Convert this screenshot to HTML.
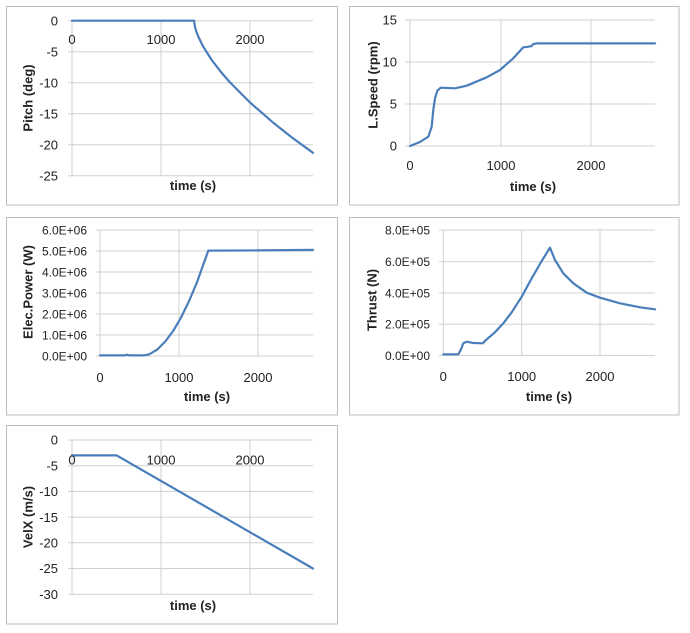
<!DOCTYPE html>
<html>
<head>
<meta charset="utf-8">
<style>
html,body{margin:0;padding:0;background:#fff;}
svg{display:block;}
text{font-family:"Liberation Sans",Arial,sans-serif;fill:#222;}
.t{font-size:13px;}
.s{font-size:12px;}
.b{font-size:13px;font-weight:bold;}
.g{stroke:#d0d0d0;stroke-width:1;fill:none;}
.f{fill:#fff;stroke:#bdbdbd;stroke-width:1;}
.d{fill:none;stroke:#4a7ebb;stroke-width:2.2;stroke-linejoin:round;stroke-linecap:round;}
</style>
</head>
<body>
<svg width="690" height="633" viewBox="0 0 690 633" xmlns="http://www.w3.org/2000/svg">
<!-- Panel 1 : Pitch -->
<rect class="f" x="6.5" y="6.5" width="331" height="198.5"/>
<g class="g">
<line x1="68" y1="20.7" x2="313" y2="20.7"/>
<line x1="68" y1="51.7" x2="313" y2="51.7"/>
<line x1="68" y1="82.7" x2="313" y2="82.7"/>
<line x1="68" y1="113.7" x2="313" y2="113.7"/>
<line x1="68" y1="144.7" x2="313" y2="144.7"/>
<line x1="68" y1="175.7" x2="313" y2="175.7"/>
<line x1="72" y1="20.7" x2="72" y2="175.7"/>
<line x1="161" y1="20.7" x2="161" y2="175.7"/>
<line x1="250" y1="20.7" x2="250" y2="175.7"/>
</g>
<polyline class="d" points="72,20.7 194,20.7 194.9,26.5 196.2,31.1 198.4,36.9 202.8,45.9 211.7,60 220.6,71.6 229.5,81.9 250,102.5 274.1,123.4 292.1,137.6 313,152.8"/>
<g class="t" text-anchor="end">
<text x="58" y="25.5">0</text>
<text x="58" y="56.5">-5</text>
<text x="58" y="87.5">-10</text>
<text x="58" y="118.5">-15</text>
<text x="58" y="149.5">-20</text>
<text x="58" y="180.5">-25</text>
</g>
<g class="t" text-anchor="middle">
<text x="72" y="44">0</text>
<text x="161" y="44">1000</text>
<text x="250" y="44">2000</text>
</g>
<text class="b" x="193" y="190" text-anchor="middle">time (s)</text>
<text class="b" text-anchor="middle" transform="translate(32.5,98) rotate(-90)">Pitch (deg)</text>

<!-- Panel 2 : L.Speed -->
<rect class="f" x="349.5" y="6.5" width="329.5" height="198.5"/>
<g class="g">
<line x1="405" y1="20" x2="655" y2="20"/>
<line x1="405" y1="62" x2="655" y2="62"/>
<line x1="405" y1="104" x2="655" y2="104"/>
<line x1="405" y1="146" x2="655" y2="146"/>
<line x1="410" y1="20" x2="410" y2="146"/>
<line x1="501" y1="20" x2="501" y2="146"/>
<line x1="591" y1="20" x2="591" y2="146"/>
</g>
<polyline class="d" points="410,146 420,142 428.3,136.7 431.7,126.7 433.3,110 435,98.3 437.3,90.7 440.7,87.7 455,88.3 466.7,85.7 486.7,77.3 500,70 513.3,58.3 523.3,47.3 528.3,46.7 531.7,46 533.3,44 536.7,43.4 655,43.4"/>
<g class="t" text-anchor="end">
<text x="397" y="24.5">15</text>
<text x="397" y="66.5">10</text>
<text x="397" y="108.5">5</text>
<text x="397" y="150.5">0</text>
</g>
<g class="t" text-anchor="middle">
<text x="410" y="170">0</text>
<text x="501" y="170">1000</text>
<text x="591" y="170">2000</text>
</g>
<text class="b" x="533" y="191" text-anchor="middle">time (s)</text>
<text class="b" text-anchor="middle" transform="translate(377.5,85) rotate(-90)">L.Speed (rpm)</text>

<!-- Panel 3 : Elec.Power -->
<rect class="f" x="6.5" y="217.5" width="331" height="197.5"/>
<g class="g">
<line x1="96" y1="230" x2="313" y2="230"/>
<line x1="96" y1="251" x2="313" y2="251"/>
<line x1="96" y1="272" x2="313" y2="272"/>
<line x1="96" y1="293" x2="313" y2="293"/>
<line x1="96" y1="314" x2="313" y2="314"/>
<line x1="96" y1="335" x2="313" y2="335"/>
<line x1="96" y1="356" x2="313" y2="356"/>
<line x1="100" y1="230" x2="100" y2="356"/>
<line x1="179" y1="230" x2="179" y2="356"/>
<line x1="258" y1="230" x2="258" y2="356"/>
</g>
<polyline class="d" points="100,355.4 125,355.4 127,354.6 129,355.4 141.7,355.4 145,355.2 149.5,354.2 157.4,349.4 165.3,341.5 173.2,330.9 181.1,317.4 189,301.2 196.9,282.5 208.3,250.6 260,250.4 313,249.9"/>
<g class="s" text-anchor="end">
<text x="87" y="234.3">6.0E+06</text>
<text x="87" y="255.3">5.0E+06</text>
<text x="87" y="276.3">4.0E+06</text>
<text x="87" y="297.3">3.0E+06</text>
<text x="87" y="318.3">2.0E+06</text>
<text x="87" y="339.3">1.0E+06</text>
<text x="87" y="360.3">0.0E+00</text>
</g>
<g class="t" text-anchor="middle">
<text x="100" y="382">0</text>
<text x="179" y="382">1000</text>
<text x="258" y="382">2000</text>
</g>
<text class="b" x="207" y="401" text-anchor="middle">time (s)</text>
<text class="b" text-anchor="middle" transform="translate(32.5,292) rotate(-90)">Elec.Power (W)</text>

<!-- Panel 4 : Thrust -->
<rect class="f" x="349.5" y="217.5" width="329.5" height="197.5"/>
<g class="g">
<line x1="439" y1="230" x2="655" y2="230"/>
<line x1="439" y1="261.7" x2="655" y2="261.7"/>
<line x1="439" y1="293" x2="655" y2="293"/>
<line x1="439" y1="324.3" x2="655" y2="324.3"/>
<line x1="439" y1="355.5" x2="655" y2="355.5"/>
<line x1="443.3" y1="230" x2="443.3" y2="355.5"/>
<line x1="521.7" y1="230" x2="521.7" y2="355.5"/>
<line x1="600" y1="230" x2="600" y2="355.5"/>
</g>
<polyline class="d" points="443.3,354.3 458.3,354.3 460.7,350 463.3,343.3 466.7,341.7 473.3,343 482.7,343.3 486.7,339.3 495,332.3 503.3,323.3 511.7,312.3 521.7,296.7 531.7,278.3 541.7,261 550,247.7 555,260 563.3,273.3 573.3,283.3 586.7,292.7 600,297.7 620,303.3 640,307.3 655,309.3"/>
<g class="s" text-anchor="end">
<text x="430" y="234.3">8.0E+05</text>
<text x="430" y="266">6.0E+05</text>
<text x="430" y="297.3">4.0E+05</text>
<text x="430" y="328.6">2.0E+05</text>
<text x="430" y="359.8">0.0E+00</text>
</g>
<g class="t" text-anchor="middle">
<text x="443.3" y="381">0</text>
<text x="521.7" y="381">1000</text>
<text x="600" y="381">2000</text>
</g>
<text class="b" x="549" y="401" text-anchor="middle">time (s)</text>
<text class="b" text-anchor="middle" transform="translate(376.5,300) rotate(-90)">Thrust (N)</text>

<!-- Panel 5 : VelX -->
<rect class="f" x="6.5" y="425.5" width="331" height="198.5"/>
<g class="g">
<line x1="68" y1="440" x2="313" y2="440"/>
<line x1="68" y1="465.7" x2="313" y2="465.7"/>
<line x1="68" y1="491.4" x2="313" y2="491.4"/>
<line x1="68" y1="517.1" x2="313" y2="517.1"/>
<line x1="68" y1="542.8" x2="313" y2="542.8"/>
<line x1="68" y1="568.5" x2="313" y2="568.5"/>
<line x1="68" y1="594.2" x2="313" y2="594.2"/>
<line x1="72" y1="440" x2="72" y2="594.2"/>
<line x1="161" y1="440" x2="161" y2="594.2"/>
<line x1="250" y1="440" x2="250" y2="594.2"/>
</g>
<polyline class="d" points="72,455.4 116.7,455.4 313,568.5"/>
<g class="t" text-anchor="end">
<text x="58" y="444.7">0</text>
<text x="58" y="470.4">-5</text>
<text x="58" y="496.1">-10</text>
<text x="58" y="521.8">-15</text>
<text x="58" y="547.5">-20</text>
<text x="58" y="573.2">-25</text>
<text x="58" y="598.9">-30</text>
</g>
<g class="t" text-anchor="middle">
<text x="72" y="464.5">0</text>
<text x="161" y="464.5">1000</text>
<text x="250" y="464.5">2000</text>
</g>
<text class="b" x="193" y="610" text-anchor="middle">time (s)</text>
<text class="b" text-anchor="middle" transform="translate(32.5,517) rotate(-90)">VelX (m/s)</text>
</svg>
</body>
</html>
